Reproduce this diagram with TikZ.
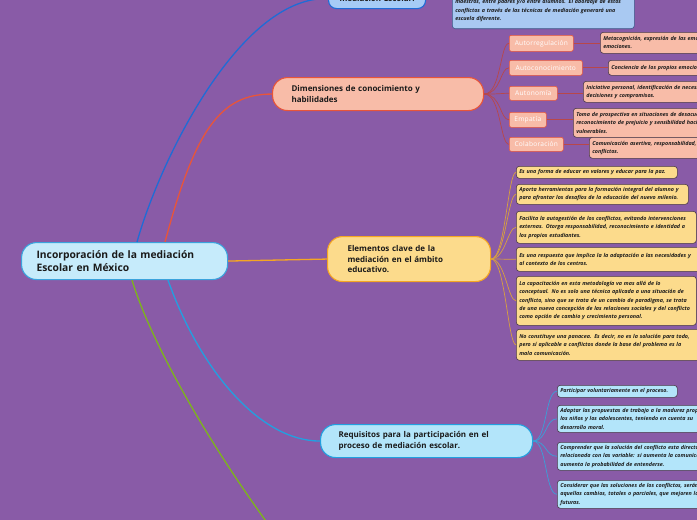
\documentclass[tikz,border=0pt]{standalone}
\usepackage{fontspec}
\setmainfont{Open Sans}
\definecolor{bg}{HTML}{895BA7}
\definecolor{cenF}{HTML}{C6EBFB}
\definecolor{cenB}{HTML}{3BA3DD}
\definecolor{topF}{HTML}{A6CBF6}
\definecolor{topB}{HTML}{1F6CD6}
\definecolor{tnF}{HTML}{A9C9F2}
\definecolor{tnB}{HTML}{3D5A8A}
\definecolor{dimF}{HTML}{F8BCA8}
\definecolor{dimB}{HTML}{E8553A}
\definecolor{dimL}{HTML}{B8474A}
\definecolor{eleF}{HTML}{FCDB8C}
\definecolor{eleB}{HTML}{F5A623}
\definecolor{eleL}{HTML}{D9A13E}
\definecolor{reqF}{HTML}{B3E5FA}
\definecolor{reqB}{HTML}{22A0E0}
\definecolor{reqL}{HTML}{3AA0D8}
\definecolor{grn}{HTML}{7DB51B}
\definecolor{txt}{HTML}{1A1A1A}
\definecolor{nb}{HTML}{4A3A48}
\begin{document}
\begin{tikzpicture}[x=1pt,y=-1pt,
  mainbox/.style={draw, line width=1.1pt, rounded corners=15pt, anchor=north west, align=left, text=txt,
    font=\fontsize{8}{10.6}\selectfont\bfseries, inner ysep=0pt},
  notebox/.style={draw=nb, line width=0.6pt, rounded corners=3pt, anchor=north west, align=left, text=txt,
    inner xsep=3pt, inner ysep=1.5pt, font=\fontsize{5.4}{8.3}\selectfont\bfseries\itshape},
  dchild/.style={draw=dimB, line width=0.6pt, fill=dimF, rounded corners=2pt, anchor=north west, text=white,
    inner sep=0pt, align=center, font=\fontsize{6.6}{8}\selectfont\addfontfeature{LetterSpace=4}},
  conn/.style={line width=1.3pt},
  fan/.style={line width=0.7pt}
]
\useasboundingbox (0,0) rectangle (697,520);
\clip (0,0) rectangle (697,520);
\fill[bg] (0,0) rectangle (697,520);

% main nodes
\node[mainbox, draw=cenB, fill=cenF, inner xsep=15pt, text width=176pt, minimum height=37pt,
  font=\fontsize{10.3}{13}\selectfont\bfseries] (cen) at (21,242) {Incorporación de la mediación\\Escolar en México};
\node[mainbox, draw=topB, fill=topF, inner xsep=6pt, text width=85pt, minimum height=20pt, align=center,
  rounded corners=8pt] (top) at (328,-12) {mediación Escolar.};
\node[mainbox, draw=dimB, fill=dimF, inner xsep=19pt, text width=173pt, minimum height=33pt] (dim) at (272,77)
  {Dimensiones de conocimiento y\\habilidades};
\node[mainbox, draw=eleB, fill=eleF, inner xsep=20pt, text width=123pt, minimum height=45pt] (ele) at (327,236)
  {Elementos clave de la\\mediación en el ámbito\\educativo.};
\node[mainbox, draw=reqB, fill=reqF, inner xsep=18pt, text width=176pt, minimum height=33pt] (req) at (320,424)
  {Requisitos para la participación en el\\proceso de mediación escolar.};
\coordinate (below) at (295,560);

% top note
\node[notebox, draw=tnB, fill=tnF, text width=176pt, minimum height=36pt, anchor=south west] (tn) at (452,29)
  {maestros, entre padres y/o entre alumnos. El abordaje de estos\\conflictos a través de las técnicas de mediación generará una\\escuela diferente.};

% main connectors
\draw[conn, topB] ([xshift=116pt]cen.north west) .. controls (160,160) and (240,-4) .. (top.west);
\draw[conn, dimB] ([xshift=144pt]cen.north west) .. controls (195,130) and (220,94) .. (dim.west);
\draw[conn, eleB] (cen.east) -- (ele.west);
\draw[conn, reqB] ([xshift=147pt]cen.south west) .. controls (200,370) and (260,441) .. (req.west);
\draw[conn, grn] ([xshift=111pt]cen.south west) .. controls (150,340) and (210,450) .. (below);

% dimension children
\node[dchild, minimum width=64pt, minimum height=16pt] (a1) at (509,35) {Autorregulación};
\node[dchild, minimum width=73pt, minimum height=15pt] (a2) at (509,60) {Autoconocimiento};
\node[dchild, minimum width=48pt, minimum height=14pt] (a3) at (509,86) {Autonomía};
\node[dchild, minimum width=37pt, minimum height=15pt] (a4) at (509,112) {Empatía};
\node[dchild, minimum width=54pt, minimum height=14pt] (a5) at (509,137) {Colaboración};

\foreach \n in {a1,a2,a3,a4,a5}
  \draw[fan, dimL] (dim.east) .. controls +(17,0) and +(-9,0) .. (\n.west);

\node[notebox, fill=dimF, text width=200pt, minimum height=21pt] (n1) at (600,32)
  {Metacognición, expresión de las emociones y regulación de las\\emociones.};
\node[notebox, fill=dimF, text width=200pt, minimum height=15pt] (n2) at (608,60)
  {Conciencia de los propios emociones.};
\node[notebox, fill=dimF, text width=200pt, minimum height=21pt] (n3) at (583,81)
  {Iniciativa personal, identificación de necesidades, toma de\\decisiones y compromisos.};
\node[notebox, fill=dimF, text width=200pt, minimum height=29pt] (n4) at (573,108)
  {Toma de prospectiva en situaciones de desacuerdo,\\reconocimiento de prejuicio y sensibilidad hacia grupos\\vulnerables.};
\node[notebox, fill=dimF, text width=200pt, minimum height=21pt] (n5) at (589,137)
  {Comunicación asertiva, responsabilidad, resolución de\\conflictos.};
\draw[fan, dimL] (a1.east) -- (n1.west |- a1.east);
\draw[fan, dimL] (a2.east) -- (n2.west |- a2.east);
\draw[fan, dimL] (a3.east) -- (n3.west |- a3.east);
\draw[fan, dimL] (a4.east) -- (n4.west |- a4.east);
\draw[fan, dimL] (a5.east) -- (n5.west |- a5.east);

% elementos children
\node[notebox, fill=eleF, text width=155pt, minimum height=12pt] (e1) at (516,166)
  {Es una forma de educar en valores y educar para la paz.};
\node[notebox, fill=eleF, text width=166pt, minimum height=20pt] (e2) at (516,184)
  {Aporta herramientas para la formación integral del alumno y\\para afrontar los desafíos de la educación del nuevo milenio.};
\node[notebox, fill=eleF, text width=174pt, minimum height=32pt] (e3) at (516,211)
  {Facilita la autogestión de los conflictos, evitando intervenciones\\externas. Otorga responsabilidad, reconocimiento e identidad a\\los propios estudiantes.};
\node[notebox, fill=eleF, text width=178pt, minimum height=24pt] (e4) at (516,247)
  {Es una respuesta que implica la la adaptación a las necesidades y\\al contexto de los centros.};
\node[notebox, fill=eleF, text width=174pt, minimum height=49pt] (e5) at (516,276)
  {La capacitación en esta metodología va mas allá de lo\\conceptual. No es solo una técnica aplicada a una situación de\\conflicto, sino que se trata de un cambio de paradigma, se trata\\de una nueva concepción de las relaciones sociales y del conflicto\\como opción de cambio y crecimiento personal.};
\node[notebox, fill=eleF, text width=178pt, minimum height=31pt] (e6) at (516,329)
  {No constituye una panacea. Es decir, no es la solución para todo,\\pero sí aplicable a conflictos donde la base del problema es la\\mala comunicación.};
\foreach \n in {e1,e2,e3,e4,e5,e6}
  \draw[fan, eleL] (ele.east) .. controls +(14,0) and +(-8,0) .. (\n.west);

% requisitos children
\node[notebox, fill=reqF, text width=114pt, minimum height=12pt] (r1) at (557,385)
  {Participar voluntariamente en el proceso.};
\node[notebox, fill=reqF, text width=200pt, minimum height=27pt] (r2) at (557,405)
  {Adaptar las propuestas de trabajo a la madurez propia de\\los niños y los adolescentes, teniendo en cuenta su\\desarrollo moral.};
\node[notebox, fill=reqF, text width=200pt, minimum height=28pt] (r3) at (557,442)
  {Comprender que la solución del conflicto esta directamente\\relacionada con las variable: si aumenta la comunicación,\\aumenta la probabilidad de entenderse.};
\node[notebox, fill=reqF, text width=200pt, minimum height=28pt] (r4) at (557,480)
  {Considerar que las soluciones de los conflictos, serán\\aquellas cambios, totales o parciales, que mejoren las relaciones\\futuras.};
\foreach \n in {r1,r2,r3,r4}
  \draw[fan, reqL] (req.east) .. controls +(14,0) and +(-12,0) .. (\n.west);
\end{tikzpicture}
\end{document}
